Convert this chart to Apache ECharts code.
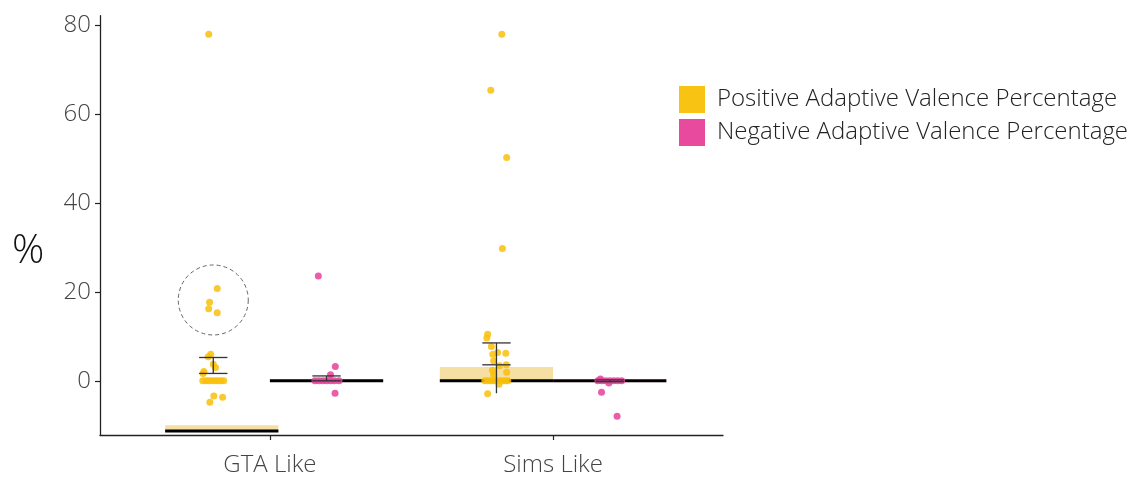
<!DOCTYPE html>
<html>
<head>
<meta charset="utf-8">
<script src="https://cdn.jsdelivr.net/npm/echarts@6/dist/echarts.min.js"></script>
<style>
html,body{margin:0;padding:0;background:#fff;}
#chart{width:1135px;height:477px;}
</style>
</head>
<body>
<div id="chart"></div>
<script>
// ---------- data ----------
const categories = ['GTA Like', 'Sims Like'];
const seriesNames = ['Positive Adaptive Valence Percentage', 'Negative Adaptive Valence Percentage'];
const yTicks = [0, 20, 40, 60, 80];

// summary bars (low / high of the shaded bar) and median lines
const posBarLow  = [-11.5, 0];
const posBarHigh = [-10.0, 3.1];
const negBarLow  = [0, -0.3];
const negBarHigh = [0.3, 0];
const posMedian  = [-11.3, 0];
const negMedian  = [0, 0];

// error bars (whisker caps) and line extent
const posErrLow  = [1.66, 3.6];
const posErrHigh = [5.25, 8.53];
const posLineLow = [1.66, -2.8];
const negErrLow  = [0.0, -0.2];
const negErrHigh = [1.1, 0.2];

// individual points: values and horizontal jitter (in category units)
const gtaPosValues = [78, 20.8, 17.7, 16.2, 15.3, 6.0, 5.4, 3.75, 3.0, 2.1, 1.65, 0, 0, 0, 0, 0, 0, 0, 0, -3.4, -3.7, -4.85];
const gtaPosJitter = [-0.016, 0.014, -0.013, -0.016, 0.014, -0.009, -0.018, 0.0, 0.008, -0.033, -0.036, -0.037, -0.026, -0.016, -0.005, 0.006, 0.016, 0.027, 0.037, 0.002, 0.033, -0.012];
const gtaNegValues = [23.6, 3.2, 1.35, 0, 0, 0, 0, 0, 0, 0, -2.8];
const gtaNegJitter = [-0.029, 0.031, 0.014, -0.041, -0.027, -0.013, 0, 0.014, 0.028, 0.044, 0.030];
const simsPosValues = [78, 65.4, 50.3, 29.8, 10.5, 9.65, 7.7, 6.0, 6.4, 6.2, 4.5, 3.4, 3.6, 2.4, 1.95, 1.35, 0, 0, 0, 0, 0, 0, 0, 0, 0, -0.75, -2.9];
const simsPosJitter = [0.019, -0.020, 0.036, 0.021, -0.031, -0.034, -0.018, -0.013, 0.004, 0.033, -0.010, 0.011, 0.035, -0.014, 0.036, -0.010, -0.041, -0.031, -0.020, -0.010, 0.001, 0.012, 0.022, 0.033, 0.040, 0.009, -0.031];
const simsNegValues = [0.4, 0, 0, 0, 0, 0, 0, 0, -0.5, -2.6, -8.0];
const simsNegJitter = [-0.033, -0.042, -0.028, -0.014, 0, 0.014, 0.028, 0.042, -0.003, -0.029, 0.026];

// annotation circle around GTA positive cluster
const circleCenter = [18.2];

// ---------- layout constants ----------
const dodge = 0.2;          // group offset from category centre
const barHalf = 0.2;        // half width of shaded bar
const capHalf = 0.05;       // half width of error bar caps
const gtaPosBarShift = 0.03; // reference bar is shifted slightly right
const yellow = '#F9BF0B';
const pink = '#E8419B';
const fontFam = '"Open Sans", "Noto Sans", sans-serif';

function catX(i) { return i + 1; }

const barData = [];
const medianData = [];
const errData = [];
categories.forEach((c, i) => {
  const shiftP = (i === 0 ? gtaPosBarShift : 0);
  barData.push([catX(i) - dodge + shiftP, posBarLow[i], posBarHigh[i], 0]);
  barData.push([catX(i) + dodge, negBarLow[i], negBarHigh[i], 1]);
  medianData.push([catX(i) - dodge + shiftP, posMedian[i]]);
  medianData.push([catX(i) + dodge, negMedian[i]]);
  errData.push([catX(i) - dodge, posErrLow[i], posErrHigh[i], Math.min(posLineLow[i], posErrLow[i])]);
  errData.push([catX(i) + dodge, negErrLow[i], negErrHigh[i], negErrLow[i]]);
});

function pts(values, jitter, i, sign) {
  return values.map((v, k) => [catX(i) + sign * dodge + jitter[k], v]);
}
const posPoints = pts(gtaPosValues, gtaPosJitter, 0, -1).concat(pts(simsPosValues, simsPosJitter, 1, -1));
const negPoints = pts(gtaNegValues, gtaNegJitter, 0, 1).concat(pts(simsNegValues, simsNegJitter, 1, 1));

const chart = echarts.init(document.getElementById('chart'), null, {renderer: 'canvas'});

const option = {
  backgroundColor: '#ffffff',
  animation: false,
  grid: {left: 100, top: 15.7, width: 623, height: 420.3, containLabel: false},
  xAxis: {
    type: 'value', min: 0.4, max: 2.6,
    axisLine: {show: true, onZero: false, lineStyle: {color: '#222', width: 1.3}},
    axisTick: {show: true, customValues: [1, 2], length: 5, lineStyle: {color: '#222', width: 1.2}},
    axisLabel: {show: true, customValues: [1, 2], formatter: v => categories[Math.round(v) - 1],
      fontSize: 24, color: '#444', fontFamily: fontFam, fontWeight: 300, margin: 18},
    splitLine: {show: false}
  },
  yAxis: {
    type: 'value', min: -12.2, max: 82.2,
    axisLine: {show: true, onZero: false, lineStyle: {color: '#222', width: 1.3}},
    axisTick: {show: true, customValues: yTicks, length: 5, lineStyle: {color: '#222', width: 1.2}},
    axisLabel: {show: true, customValues: yTicks, fontSize: 24, color: '#444', fontFamily: fontFam, fontWeight: 300, margin: 9},
    splitLine: {show: false}
  },
  legend: {
    orient: 'vertical', left: 679, top: 86, padding: 0, itemWidth: 26, itemHeight: 27, itemGap: 6,
    icon: 'rect',
    textStyle: {fontSize: 24, color: '#222', fontFamily: fontFam, fontWeight: 300, padding: [0, 0, 0, 7]},
    data: [
      {name: seriesNames[0], itemStyle: {color: '#F9C313', opacity: 1}},
      {name: seriesNames[1], itemStyle: {color: '#E84A9E', opacity: 1}}
    ]
  },
  graphic: [{
    type: 'text', left: 12, top: 232,
    style: {text: '%', fontSize: 40, fill: '#111', fontFamily: fontFam, fontWeight: 300}
  }],
  series: [
    {
      type: 'custom', name: 'bars', z: 1, silent: true,
      data: barData,
      renderItem: (params, api) => {
        const x = api.value(0), lo = api.value(1), hi = api.value(2), g = api.value(3);
        const p1 = api.coord([x - barHalf, hi]);
        const p2 = api.coord([x + barHalf, lo]);
        return {type: 'rect', shape: {x: p1[0], y: p1[1], width: p2[0] - p1[0], height: p2[1] - p1[1]},
          style: {fill: g === 0 ? '#F6DFA2' : '#F6C3DD'}};
      }
    },
    {
      type: 'custom', name: 'medians', z: 2, silent: true,
      data: medianData,
      renderItem: (params, api) => {
        const x = api.value(0), m = api.value(1);
        const a = api.coord([x - barHalf, m]);
        const b = api.coord([x + barHalf, m]);
        return {type: 'line', shape: {x1: a[0], y1: a[1], x2: b[0], y2: b[1]},
          style: {stroke: '#000', lineWidth: 3}};
      }
    },
    {
      type: 'scatter', name: seriesNames[0], z: 3, symbolSize: 7,
      itemStyle: {color: yellow, opacity: 0.85},
      data: posPoints
    },
    {
      type: 'scatter', name: seriesNames[1], z: 3, symbolSize: 7,
      itemStyle: {color: pink, opacity: 0.85},
      data: negPoints
    },
    {
      type: 'custom', name: 'errors', z: 4, silent: true,
      data: errData,
      renderItem: (params, api) => {
        const x = api.value(0), lo = api.value(1), hi = api.value(2), ll = api.value(3);
        const top = api.coord([x, hi]);
        const bot = api.coord([x, ll]);
        const c1a = api.coord([x - capHalf, hi]), c1b = api.coord([x + capHalf, hi]);
        const c2a = api.coord([x - capHalf, lo]), c2b = api.coord([x + capHalf, lo]);
        const st = {stroke: '#333', lineWidth: 1.3};
        return {type: 'group', children: [
          {type: 'line', shape: {x1: top[0], y1: top[1], x2: bot[0], y2: bot[1]}, style: st},
          {type: 'line', shape: {x1: c1a[0], y1: c1a[1], x2: c1b[0], y2: c1b[1]}, style: st},
          {type: 'line', shape: {x1: c2a[0], y1: c2a[1], x2: c2b[0], y2: c2b[1]}, style: st}
        ]};
      }
    },
    {
      type: 'custom', name: 'circle', z: 5, silent: true,
      data: [[catX(0) - dodge, circleCenter[0]]],
      renderItem: (params, api) => {
        const c = api.coord([api.value(0), api.value(1)]);
        return {type: 'circle', shape: {cx: c[0], cy: c[1], r: 35},
          style: {fill: 'none', stroke: '#555', lineWidth: 0.9, lineDash: [4, 3]}};
      }
    }
  ]
};
chart.setOption(option);
</script>
</body>
</html>
